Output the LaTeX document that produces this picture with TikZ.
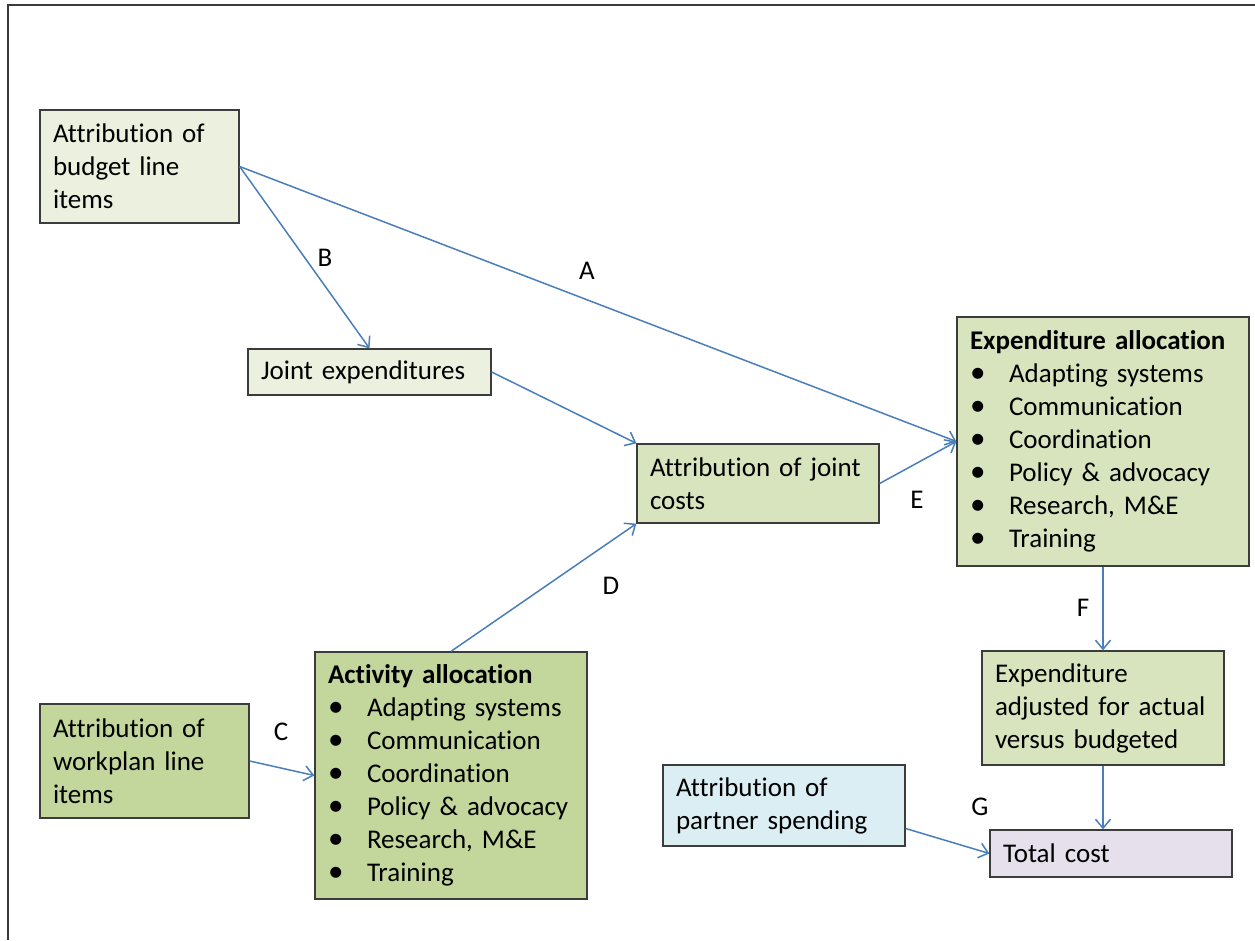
\documentclass[tikz,border=0pt]{standalone}
\usepackage{fontspec}
\setmainfont{Carlito}[Ligatures={NoCommon,NoDiscretionary,NoContextual}]
\usetikzlibrary{arrows.meta}
\definecolor{boxline}{HTML}{3C3C3C}
\definecolor{framegray}{HTML}{3A3A3A}
\definecolor{linkblue}{HTML}{4A7EBB}
\definecolor{greenA}{HTML}{EBF1DE}
\definecolor{greenB}{HTML}{D7E4BD}
\definecolor{greenC}{HTML}{C3D69B}
\definecolor{blueA}{HTML}{DBEEF4}
\definecolor{lilacA}{HTML}{E6E0EC}
\newcommand{\bitem}[1]{\makebox[39pt][l]{\scalebox{1.15}{\textbullet}}#1}
\begin{document}
\begin{tikzpicture}[x=1pt,y=-1pt,
  box/.style={draw=boxline, line width=1.3pt, inner xsep=13pt, inner ysep=0pt,
    align=left, font={\fontsize{27}{33}\selectfont}, anchor=center},
  conn/.style={draw=linkblue, line width=1.5pt,
    -{Straight Barb[length=9pt,width=15pt,line width=1.5pt]}},
  lbl/.style={font={\fontsize{27}{33}\selectfont}, inner sep=0pt}]
\useasboundingbox (0,0) rectangle (1255,940);
\draw[line width=2pt, framegray] (8,940) -- (8,5) -- (1255,5);

% boxes
\node[box, fill=greenA, minimum width=199pt, minimum height=113pt, text width=173pt]
  (budget) at (139.5,166.5) {Attribution of\\budget line\\items};
\node[box, fill=greenA, minimum width=243pt, minimum height=46pt, text width=217pt]
  (jointexp) at (369.5,372) {Joint expenditures};
\node[box, fill=greenB, minimum width=242pt, minimum height=79pt, text width=216pt]
  (jointcost) at (758,483.5) {Attribution of joint\\costs};
\node[box, fill=greenB, minimum width=292pt, minimum height=249pt, text width=266pt]
  (expalloc) at (1103,441.5) {\textbf{Expenditure allocation}\\\bitem{Adapting systems}\\\bitem{Communication}\\\bitem{Coordination}\\\bitem{Policy \& advocacy}\\\bitem{Research, M\&E}\\\bitem{Training}};
\node[box, fill=greenB, minimum width=242pt, minimum height=114pt, text width=216pt]
  (adjusted) at (1103,708) {Expenditure\\adjusted for actual\\versus budgeted};
\node[box, fill=blueA, minimum width=242pt, minimum height=81pt, text width=216pt]
  (partner) at (784,805.5) {Attribution of\\partner spending};
\node[box, fill=lilacA, minimum width=242pt, minimum height=47pt, text width=216pt]
  (total) at (1111,853.5) {Total cost};
\node[box, fill=greenC, minimum width=209pt, minimum height=114pt, text width=183pt]
  (workplan) at (144.5,761) {Attribution of\\workplan line\\items};
\node[box, fill=greenC, minimum width=272pt, minimum height=247pt, text width=246pt]
  (activity) at (451,775.5) {\textbf{Activity allocation}\\\bitem{Adapting systems}\\\bitem{Communication}\\\bitem{Coordination}\\\bitem{Policy \& advocacy}\\\bitem{Research, M\&E}\\\bitem{Training}};

% connectors
\draw[conn] (budget.east) -- (expalloc.west);
\draw[conn] (budget.east) -- (jointexp.north);
\draw[conn] (jointexp.east) -- (jointcost.north west);
\draw[conn] (activity.north) -- (jointcost.south west);
\draw[conn] (jointcost.east) -- (expalloc.west);
\draw[conn] (expalloc.south) -- (adjusted.north);
\draw[conn] (adjusted.south) -- (adjusted.south |- total.north);
\draw[conn] ([yshift=-23pt]partner.east) -- (total.west);
\draw[conn] (workplan.east) -- (activity.west);

% labels
\node[lbl] (lA) at (587,271) {A};
\node[lbl] (lB) at (325,258) {B};
\node[lbl] (lC) at (281,732) {C};
\node[lbl] (lD) at (611,586) {D};
\node[lbl] (lE) at (917,500) {E};
\node[lbl] (lF) at (1083,608) {F};
\node[lbl] (lG) at (980,807) {G};
\end{tikzpicture}
\end{document}
